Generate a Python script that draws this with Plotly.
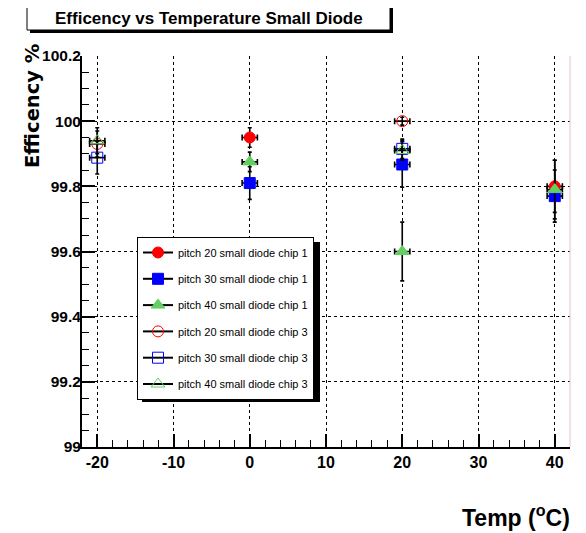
import plotly.graph_objects as go

# ---------------- data ----------------
temps_chip1 = [0, 20, 40]
eff_p20_chip1 = [99.95, None, 99.80]
eff_p30_chip1 = [99.81, 99.867, 99.77]
eff_p40_chip1 = [99.875, 99.60, 99.79]
err_p20_chip1 = [0.03, None, 0.08]
err_p30_chip1 = [0.05, 0.07, 0.08]
err_p40_chip1 = [0.03, 0.09, 0.09]

temps_chip3 = [-20, 20]
eff_p20_chip3 = [99.93, 100.0]
eff_p30_chip3 = [99.888, 99.915]
eff_p40_chip3 = [99.94, 99.91]
err_p20_chip3 = [0.04, 0.012]
err_p30_chip3 = [0.05, 0.03]
err_p40_chip3 = [0.04, 0.03]

temp_err = 1.0

legend_names = [
    "pitch 20 small diode chip 1",
    "pitch 30 small diode chip 1",
    "pitch 40 small diode chip 1",
    "pitch 20 small diode chip 3",
    "pitch 30 small diode chip 3",
    "pitch 40 small diode chip 3",
]

y_tickvals = [99.0, 99.2, 99.4, 99.6, 99.8, 100.0, 100.2]
y_ticktext = ["99", "99.2", "99.4", "99.6", "99.8", "100", "100.2"]
x_tickvals = [-20, -10, 0, 10, 20, 30, 40]
x_ticktext = ["-20", "-10", "0", "10", "20", "30", "40"]

title_text = "Efficency vs Temperature Small Diode"
x_title = "Temp (<sup>o</sup>C)"
y_title = "Efficency %"

# ---------------- style / layout ----------------
OFF = 8  # page body margin of the viewer
W, H = 586 - OFF, 533 - OFF
ML, MR, MT, MB = 82 - OFF, 16, 56 - OFF, 86
PW, PH = W - ML - MR, H - MT - MB

def pxx(x):
    # reference-picture x pixel -> paper coordinate
    return (x - OFF - ML) / PW

def pxy(y):
    # reference-picture y pixel -> paper coordinate
    return (H - MB - (y - OFF)) / PH

RED = "#ff0000"
BLUE = "#0000ff"
GREEN = "#63cf63"
SANS = "Liberation Sans, Arial, sans-serif"
WIDE = "DejaVu Sans, sans-serif"

fig = go.Figure()

series = [
    (temps_chip1, eff_p20_chip1, err_p20_chip1, "circle", RED, 11),
    (temps_chip1, eff_p30_chip1, err_p30_chip1, "square", BLUE, 11),
    (temps_chip1, eff_p40_chip1, err_p40_chip1, "triangle-up", GREEN, 12),
    (temps_chip3, eff_p20_chip3, err_p20_chip3, "circle-open", RED, 11),
    (temps_chip3, eff_p30_chip3, err_p30_chip3, "square-open", BLUE, 11),
    (temps_chip3, eff_p40_chip3, err_p40_chip3, "triangle-up-open", GREEN, 12),
]

for (xs, ys, es, sym, col, sz), name in zip(series, legend_names):
    fig.add_trace(go.Scatter(
        x=xs, y=ys, mode="markers", showlegend=False, cliponaxis=False,
        marker=dict(symbol=sym, color=col, size=sz, line=dict(color=col, width=1)),
        error_y=dict(type="data", array=es, color="black", thickness=1.6, width=2),
        error_x=dict(type="constant", value=temp_err, color="black", thickness=1.6, width=3),
    ))

for i, ((xs, ys, es, sym, col, sz), name) in enumerate(zip(series, legend_names)):
    fig.add_trace(go.Scatter(
        x=[None], y=[None], mode="lines+markers", name=name, legendgroup=f"g{i}",
        line=dict(color="black", width=2),
        marker=dict(symbol=sym, color=col, size=sz, line=dict(color=col, width=1)),
    ))

shapes = []
# title box shadow + box
shapes.append(dict(type="rect", xref="paper", yref="paper",
                   x0=pxx(30), x1=pxx(393), y0=pxy(33), y1=pxy(6.3),
                   fillcolor="black", line=dict(width=0)))
shapes.append(dict(type="rect", xref="paper", yref="paper",
                   x0=pxx(27), x1=pxx(390), y0=pxy(30), y1=pxy(3.3),
                   fillcolor="white", line=dict(color="black", width=1)))
# legend shadow
shapes.append(dict(type="rect", xref="paper", yref="paper",
                   x0=pxx(142), x1=pxx(320), y0=pxy(402), y1=pxy(242),
                   fillcolor="black", line=dict(width=0)))
# faint right frame
shapes.append(dict(type="line", xref="paper", yref="paper",
                   x0=1, x1=1, y0=0, y1=1, line=dict(color="#e8c4c4", width=1)))

annotations = [
    dict(text=title_text, xref="paper", yref="paper", x=pxx(208.5), y=pxy(18),
         xanchor="center", yanchor="middle", showarrow=False,
         font=dict(family=SANS, size=17, color="black", weight="bold")),
    dict(text=y_title, xref="paper", yref="paper", x=pxx(32), y=pxy(106),
         xanchor="center", yanchor="middle", showarrow=False, textangle=-90,
         font=dict(family=WIDE, size=19.5, color="black", weight="bold")),
    dict(text=x_title, xref="paper", yref="paper", x=pxx(572), y=pxy(516),
         xanchor="right", yanchor="middle", showarrow=False,
         font=dict(family=SANS, size=23, color="black", weight="bold")),
]

fig.update_layout(
    width=W, height=H,
    margin=dict(l=ML, r=MR, t=MT, b=MB),
    paper_bgcolor="white", plot_bgcolor="white",
    shapes=shapes, annotations=annotations,
    showlegend=True,
    legend=dict(x=pxx(137), y=pxy(237), xanchor="left", yanchor="top",
                bgcolor="white", bordercolor="black", borderwidth=1,
                font=dict(family=SANS, size=11, color="black"),
                tracegroupgap=7.3, traceorder="grouped", itemwidth=30),
)

fig.update_xaxes(
    range=[-22, 42], tickvals=x_tickvals, ticktext=x_ticktext,
    ticks="inside", ticklen=13, tickwidth=1.5, tickcolor="black",
    showline=True, linecolor="black", linewidth=2,
    showgrid=True, gridcolor="black", gridwidth=1, griddash="dot",
    zeroline=False,
    minor=dict(ticks="inside", ticklen=7, dtick=2, tick0=0, tickcolor="black", tickwidth=1, showgrid=False),
    tickfont=dict(family=SANS, size=16, color="black", weight="bold"),
)
fig.update_yaxes(
    range=[99, 100.2], tickvals=y_tickvals, ticktext=y_ticktext,
    ticks="inside", ticklen=13, tickwidth=1.5, tickcolor="black",
    showline=True, linecolor="black", linewidth=2,
    showgrid=True, gridcolor="black", gridwidth=1, griddash="dot",
    zeroline=False,
    minor=dict(ticks="inside", ticklen=7, dtick=0.05, tick0=99, tickcolor="black", tickwidth=1, showgrid=False),
    tickfont=dict(family=SANS, size=15.5, color="black", weight="bold"),
    ticklabelstandoff=-4,
)

fig.write_html("out.html")
